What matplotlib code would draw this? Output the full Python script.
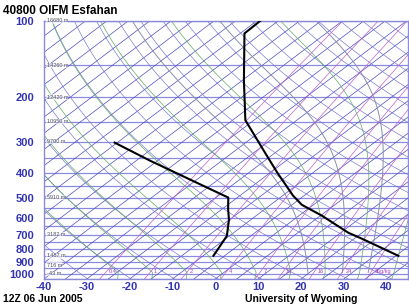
import numpy as np
import matplotlib
matplotlib.use("Agg")
import matplotlib.pyplot as plt

plt.rcParams['font.family'] = ['Liberation Sans', 'DejaVu Sans']
plt.rcParams['axes.unicode_minus'] = False

# sounding 40800 OIFM Esfahan, 12Z 06 Jun 2005
temp_p = [100, 112, 172, 247, 332, 398, 491, 534, 590, 689, 728, 850]
temp_t = [-69.2, -69.0, -54.6, -42.0, -27.4, -18.4, -7.6, -2.7, 5.4, 16.8, 21.9, 35.6]
dwpt_p = [303, 357, 500, 555, 612, 709, 850]
dwpt_t = [-65.6, -51.8, -22.1, -18.6, -15.1, -10.6, -7.6]

hgt_p = [100, 150, 200, 250, 300, 500, 700, 850, 925, 1000]
hgt_lbl = ["16680 m", "14260 m", "12420 m", "10950 m", "9700 m", "5910 m",
           "3182 m", "1487 m", "716 m", "-43 m"]

p_ticks = [100, 200, 300, 400, 500, 600, 700, 800, 900, 1000]
t_ticks = [-40, -30, -20, -10, 0, 10, 20, 30, 40]
mix_ratios = [0.4, 1, 2, 4, 7, 10, 16, 24, 36]
mix_lbl = ["0.4", "1", "2", "4", "7", "10", "16", "24", "36g/kg"]

SKEW = 78.0
P_BOT = 1050.0


def skx(t, p):
    return np.asarray(t) + SKEW * np.log10(P_BOT / np.asarray(p, dtype=float))


def es(tc):
    return 6.112 * np.exp(17.67 * tc / (tc + 243.5))


def moist(t0, pp):
    # pseudo-adiabat from 1000 hPa upward
    Rd, cp, Lv, eps = 287.0, 1004.0, 2.5e6, 0.622
    out = []
    T = t0 + 273.15
    p = 1000.0
    for target in pp:
        while p > target:
            dp = max(-2.0, target - p)
            e = es(T - 273.15)
            rs = eps * e / (p - e)
            dTdp = (Rd * T + Lv * rs) / (cp + Lv * Lv * rs * eps / (Rd * T * T)) / p
            T += dTdp * dp
            p += dp
        out.append(T - 273.15)
    return np.array(out)


fig = plt.figure(figsize=(4.10, 3.04), dpi=100)
ax = fig.add_axes([44 / 410, 25 / 304, 364 / 410, 258 / 304])
ax.set_yscale('log')
ax.set_xlim(-40, 45)
ax.set_ylim(1050, 100)

pp = np.logspace(np.log10(100), np.log10(1050), 120)
pp_m = pp[::-1]

# isobars
for p in range(100, 1051, 50):
    ax.axhline(p, color='#8a8ae0', lw=0.9, zorder=1)

# isotherms
for t in range(-160, 60, 5):
    ax.plot(skx(t, pp), pp, color='#4c4cc4', lw=0.5, zorder=1)

# dry adiabats
for th in range(230, 520, 10):
    tt = th * (pp / 1000.0) ** 0.2857 - 273.15
    ax.plot(skx(tt, pp), pp, color='#7070d0', lw=0.45, zorder=1)

# moist adiabats
pm = pp_m[pp_m <= 1000]
for t0 in range(-24, 41, 8):
    tm = moist(t0, pm)
    ax.plot(skx(np.r_[t0 + 1.2, tm], np.r_[1050, pm]), np.r_[1050, pm],
            color='#62aa62', lw=0.5, zorder=1)
for t0 in [20, 28, 34]:
    tm = moist(t0, pm)
    ax.plot(skx(tm, pm), pm, color='#8890a8', lw=0.7, zorder=1)

# mixing ratio lines
for w, lbl in zip(mix_ratios, mix_lbl):
    e = pp * w / (622.0 + w)
    le = np.log(e / 6.112)
    td = 243.5 * le / (17.67 - le)
    ax.plot(skx(td, pp), pp, color='#c060c8', lw=0.5, zorder=1)
    e0 = 1000 * w / (622.0 + w)
    l0 = np.log(e0 / 6.112)
    td0 = 243.5 * l0 / (17.67 - l0)
    ax.text(skx(td0, 1000) + 1.0, 1000, lbl, color='#b040c0', fontsize=4,
            ha='left', va='bottom', zorder=3)

# height labels
for p, lbl in zip(hgt_p, hgt_lbl):
    ax.text(-39.4, p, lbl, fontsize=4, color='#505060', va='center',
            ha='left', zorder=3,
            bbox=dict(facecolor='white', edgecolor='none', pad=0.2, alpha=0.6))

# soundings
ax.plot(skx(temp_t, temp_p), temp_p, color='black', lw=1.5, zorder=4)
ax.plot(skx(dwpt_t, dwpt_p), dwpt_p, color='black', lw=1.5, zorder=4)

ax.set_yticks(p_ticks)
ax.set_yticklabels([str(p) for p in p_ticks])
ax.yaxis.set_minor_locator(matplotlib.ticker.NullLocator())
ax.set_xticks(t_ticks)
ax.set_xticklabels([str(t) for t in t_ticks])
ax.tick_params(axis='y', length=0, labelsize=8, labelcolor='#3434b0', pad=7)
ax.tick_params(axis='x', length=0, labelsize=8, labelcolor='#3434b0', pad=2.5)
for lab in ax.get_xticklabels() + ax.get_yticklabels():
    lab.set_fontweight('bold')
for s in ax.spines.values():
    s.set_color('#8a8ad8')
    s.set_linewidth(1.0)

fig.text(3 / 410, 1 - 10.5 / 304, "40800 OIFM Esfahan", fontsize=8.5,
         fontweight='bold', va='center', ha='left')
fig.text(3 / 410, 1 - 299 / 304, "12Z 06 Jun 2005", fontsize=7.5,
         fontweight='bold', va='center', ha='left')
fig.text(301 / 410, 1 - 299 / 304, "University of Wyoming", fontsize=7.5,
         fontweight='bold', va='center', ha='center')

fig.savefig("out.png", dpi=100)
